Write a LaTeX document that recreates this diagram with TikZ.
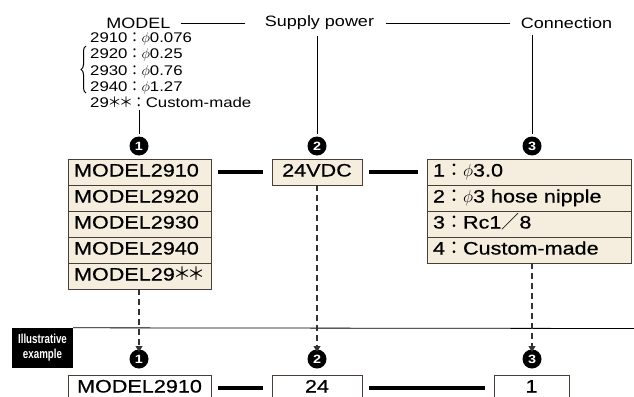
\documentclass[tikz,border=0pt]{standalone}
\usepackage{fontspec}
\setmainfont{Liberation Sans}[FakeStretch=1.2]
\newfontfamily\boxfont{Liberation Sans}[FakeStretch=1.2,FakeBold=0.6]
\newfontfamily\cjk{Noto Sans CJK JP}
\newfontfamily\cjkp{Noto Sans CJK JP}[CharacterWidth=AlternateProportional]
\newfontfamily\narrowsf{Liberation Sans}[FakeStretch=0.75]
\usepackage{tikz}
\usetikzlibrary{arrows.meta,decorations.pathreplacing}
\definecolor{boxfill}{RGB}{245,238,222}
\definecolor{boxline}{RGB}{70,62,55}
\newcommand{\fw}[1]{{\cjk #1}}
\newcommand{\stars}{{\cjkp ＊＊}}

\begin{document}
\begin{tikzpicture}[x=1pt,y=-1pt,
  lbl/.style={inner sep=0pt,font=\fontsize{15}{18}\selectfont},
  listtxt/.style={inner sep=0pt,font=\fontsize{14}{16}\selectfont},
  rowbox/.style={draw=boxline,fill=boxfill,minimum height=26pt,inner xsep=6pt,inner ysep=0pt,
    text height=13pt,text depth=4pt,font=\boxfont\fontsize{18}{20}\selectfont},
  mrow/.style={rowbox,text width=131pt,align=left},
  crow/.style={rowbox,text width=192pt,align=left},
  exbox/.style={rowbox,fill=white},
  numc/.style={circle,fill=black,text=white,inner sep=0pt,minimum size=19pt,font=\bfseries\fontsize{12}{12}\selectfont},
  thickln/.style={line width=4pt,shorten <=7pt,shorten >=9pt},
  dasharr/.style={black!80,line width=1.1pt,dash pattern=on 6pt off 4pt,-{Triangle[length=6pt,width=7pt]}}]
\path[use as bounding box,clip] (0,0) rectangle (634,396);

% headings
\node[lbl] (modellbl) at (138.5,23) {MODEL};
\node[lbl] (powerlbl) at (319.5,23) {Supply power};
\node[lbl] (connlbl) at (566.5,23) {Connection};
\draw[shorten <=10pt,shorten >=20pt] (modellbl.east) -- (powerlbl.west);
\draw[shorten <=12pt,shorten >=11pt] (powerlbl.east) -- (connlbl.west);

% model list
\foreach \i/\t in {1/{2910\fw{：}$\phi$0.076},2/{2920\fw{：}$\phi$0.25},3/{2930\fw{：}$\phi$0.76},
  4/{2940\fw{：}$\phi$1.27},5/{29\stars\fw{：}Custom-made}}
  \node[listtxt,anchor=base west] (ml\i) at (90,27+16*\i) {\t};
\draw[line width=1pt,decorate,decoration={brace,amplitude=5pt}] (86,93) -- (86,46);

% numbers
\node[numc] (c1) at (139,146) {1};
\node[numc] (c2) at (317,146) {2};
\node[numc] (c3) at (532,146) {3};
\draw[shorten >=2pt] (c1 |- ml5.south) ++(0,3) -- (c1.north);
\draw[shorten <=6pt,shorten >=2pt] (c2 |- powerlbl.south) -- (c2.north);
\draw[shorten <=6pt,shorten >=2pt] (c3 |- connlbl.south) -- (c3.north);

% boxes
\foreach \i/\t in {1/MODEL2910,2/MODEL2920,3/MODEL2930,4/MODEL2940,5/{MODEL29\stars}}
  \node[mrow] (m\i) at (139.5,146+26*\i) {\t};
\node[rowbox,minimum width=90pt] (pwr) at (317,172) {24VDC};
\foreach \i/\t in {1/{1\fw{：}$\phi$3.0},2/{2\fw{：}$\phi$3 hose nipple},3/{3\fw{：}Rc1\fw{／}8},4/{4\fw{：}Custom-made}}
  \node[crow] (k\i) at (529,146+26*\i) {\t};
\draw[thickln] (m1.east) -- (pwr.west);
\draw[thickln] (pwr.east) -- (k1.west);

% illustrative example
\node[fill=black,text=white,minimum width=61pt,minimum height=40pt,inner sep=0pt,align=center,
  font=\narrowsf\bfseries\fontsize{13}{15}\selectfont] (illus) at (42.5,348) {Illustrative\\example};
\draw[line width=0.8pt] (illus.north east) -- (634,328.5);

\node[numc] (e1) at (139,359) {1};
\node[numc] (e2) at (317,359) {2};
\node[numc] (e3) at (532,359) {3};
\draw[dasharr,shorten >=7pt] (c1 |- m5.south) -- (e1.center);
\draw[dasharr,shorten >=7pt] (c2 |- pwr.south) -- (e2.center);
\draw[dasharr,shorten >=7pt] (c3 |- k4.south) -- (e3.center);

\node[exbox,minimum width=143pt] (x1) at (139.5,388) {MODEL2910};
\node[exbox,minimum width=90pt] (x2) at (317,388) {24};
\node[exbox,minimum width=75pt] (x3) at (531.5,388) {1};
\draw[thickln] (x1.east) -- (x2.west);
\draw[thickln] (x2.east) -- (x3.west);
\end{tikzpicture}
\end{document}
